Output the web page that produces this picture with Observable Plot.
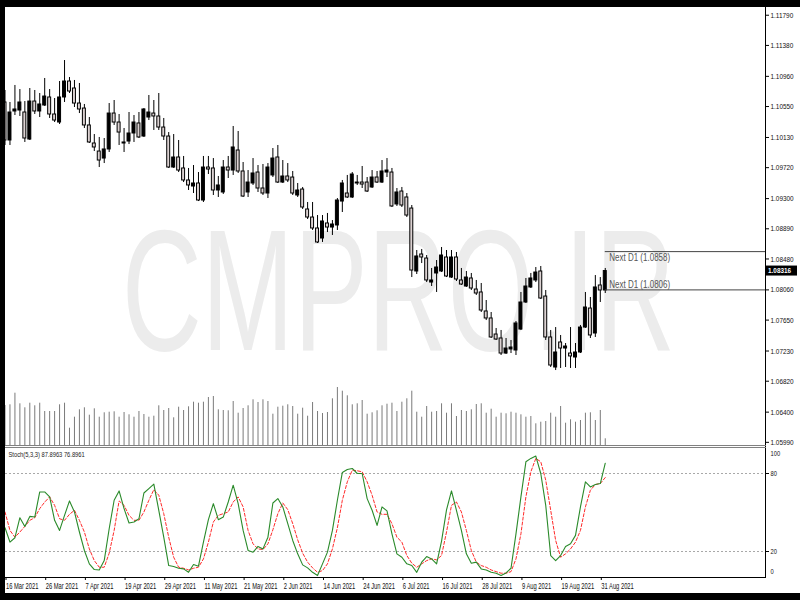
<!DOCTYPE html>
<html><head><meta charset="utf-8">
<script src="https://cdn.jsdelivr.net/npm/d3@7"></script>
<script src="https://cdn.jsdelivr.net/npm/@observablehq/plot@0.6"></script>
<style>
html,body{margin:0;padding:0;background:#fff;}
#wrap{position:relative;width:800px;height:600px;overflow:hidden;background:#fff;}
.layer{position:absolute;left:0;}
.band{position:absolute;background:#000;z-index:10;}
.hl{position:absolute;z-index:5;}
</style></head><body>
<div id="wrap"></div>
<script>
const FONT = '"Liberation Sans",Arial,sans-serif';

// EURUSD D1, 16 Mar 2021 .. 1 Sep 2021 (one value per trading day)
const open = [1.10605,1.10089,1.10483,1.10496,1.10469,1.10102,1.10618,1.10483,1.10564,1.10673,1.10442,1.10333,1.10673,1.10890,1.10795,1.10591,1.10523,1.10293,1.10048,1.09939,1.09844,1.09967,1.10455,1.10333,1.10048,1.10075,1.10184,1.10320,1.10143,1.10401,1.10455,1.10415,1.10265,1.10143,1.09722,1.09858,1.09709,1.09546,1.09464,1.09505,1.09274,1.09722,1.09709,1.09410,1.09383,1.09722,1.09681,1.09953,1.09668,1.09383,1.09505,1.09654,1.09437,1.09369,1.09614,1.09858,1.09518,1.09600,1.09586,1.09342,1.09423,1.09152,1.09043,1.08894,1.08758,1.08962,1.08907,1.08935,1.09260,1.09369,1.09315,1.09505,1.09518,1.09518,1.09451,1.09586,1.09518,1.09654,1.09654,1.09220,1.09396,1.09315,1.09165,1.08310,1.08541,1.08486,1.08160,1.08283,1.08310,1.08500,1.08228,1.08500,1.08188,1.08106,1.08215,1.08065,1.08025,1.07767,1.07672,1.07454,1.07400,1.07196,1.07251,1.07237,1.07522,1.07889,1.08093,1.08188,1.08310,1.07970,1.07414,1.07006,1.07346,1.07264,1.07196,1.07142,1.07210,1.07549,1.07807,1.07468,1.08120,1.08052];
const high = [1.10768,1.10605,1.10836,1.10781,1.10618,1.10795,1.10768,1.10727,1.10931,1.10781,1.10659,1.10890,1.11175,1.10944,1.10904,1.10863,1.10578,1.10401,1.10170,1.10130,1.10116,1.10591,1.10632,1.10442,1.10252,1.10469,1.10428,1.10469,1.10523,1.10700,1.10632,1.10727,1.10388,1.10197,1.10170,1.10089,1.09872,1.09709,1.09749,1.09654,1.09872,1.09872,1.09844,1.09600,1.09817,1.09872,1.10279,1.10211,1.09790,1.09681,1.09844,1.09749,1.09763,1.09776,1.09980,1.10021,1.09817,1.09776,1.09668,1.09505,1.09451,1.09247,1.09247,1.09070,1.09070,1.09098,1.09002,1.09301,1.09546,1.09614,1.09654,1.09614,1.09736,1.09586,1.09681,1.09668,1.09817,1.09844,1.09709,1.09437,1.09451,1.09369,1.09206,1.08595,1.08609,1.08527,1.08351,1.08459,1.08636,1.08595,1.08595,1.08568,1.08351,1.08310,1.08283,1.08188,1.08147,1.07916,1.07753,1.07536,1.07509,1.07400,1.07373,1.07631,1.08025,1.08215,1.08283,1.08364,1.08378,1.08052,1.07509,1.07549,1.07441,1.07332,1.07549,1.07332,1.07577,1.08025,1.07957,1.08255,1.08228,1.08351];
const low = [1.10021,1.10021,1.10428,1.10415,1.10062,1.10089,1.10442,1.10401,1.10551,1.10388,1.10333,1.10306,1.10605,1.10727,1.10537,1.10455,1.10252,1.10048,1.09939,1.09722,1.09776,1.09926,1.10293,1.10021,1.09926,1.10034,1.10062,1.10116,1.10130,1.10360,1.10225,1.10225,1.10089,1.09709,1.09709,1.09654,1.09518,1.09410,1.09369,1.09260,1.09247,1.09627,1.09342,1.09315,1.09356,1.09573,1.09614,1.09641,1.09315,1.09315,1.09478,1.09383,1.09342,1.09301,1.09586,1.09505,1.09505,1.09518,1.09342,1.09315,1.09152,1.09016,1.08867,1.08690,1.08704,1.08839,1.08799,1.08867,1.09111,1.09301,1.09301,1.09478,1.09437,1.09383,1.09437,1.09505,1.09505,1.09586,1.09179,1.09193,1.09179,1.09043,1.08228,1.08269,1.08418,1.08160,1.08106,1.08025,1.08296,1.08228,1.08215,1.08174,1.08120,1.08093,1.08052,1.07984,1.07753,1.07644,1.07400,1.07373,1.07169,1.07183,1.07196,1.07169,1.07509,1.07875,1.08079,1.08160,1.07930,1.07373,1.07006,1.06965,1.06993,1.07006,1.06993,1.06993,1.07196,1.07536,1.07400,1.07414,1.07889,1.08011];
const close = [1.10089,1.10469,1.10510,1.10605,1.10116,1.10618,1.10483,1.10578,1.10686,1.10442,1.10360,1.10673,1.10890,1.10754,1.10591,1.10510,1.10293,1.10062,1.09994,1.09817,1.09967,1.10455,1.10333,1.10197,1.10062,1.10184,1.10333,1.10130,1.10510,1.10469,1.10415,1.10265,1.10143,1.09722,1.09858,1.09681,1.09546,1.09478,1.09505,1.09274,1.09722,1.09695,1.09410,1.09478,1.09722,1.09681,1.09994,1.09668,1.09328,1.09518,1.09641,1.09437,1.09369,1.09722,1.09844,1.09518,1.09600,1.09546,1.09369,1.09410,1.09179,1.09043,1.08894,1.08704,1.08989,1.08907,1.08948,1.09274,1.09505,1.09315,1.09627,1.09518,1.09491,1.09396,1.09586,1.09518,1.09668,1.09681,1.09193,1.09383,1.09206,1.09070,1.08323,1.08514,1.08500,1.08188,1.08188,1.08364,1.08527,1.08242,1.08500,1.08201,1.08133,1.08228,1.08079,1.08011,1.07780,1.07672,1.07414,1.07386,1.07196,1.07264,1.07278,1.07604,1.07889,1.08106,1.08215,1.08296,1.07943,1.07414,1.07033,1.07210,1.07264,1.07291,1.07156,1.07210,1.07549,1.07821,1.07441,1.08093,1.08052,1.08316];
// tick volume, thousands
const volumeK = [40,40.7,52.3,41.7,37.7,42.3,39.7,42.3,34,34,34,40.7,42.3,17.3,28.3,35.7,37.7,30.3,36.7,28.3,32.7,33.3,33.7,28.3,33,30.7,28.3,34,31,28.3,29.3,39.7,35,37,27.7,38.3,35,38.7,43.3,42.3,43.3,48,49,35.7,35,34.7,44,32.3,37,39.7,45.7,43,45.7,44,31.3,38.3,39.3,40.7,39,31.3,37.3,29.3,43,34,32,33,46.7,58,54.3,49.7,40.7,41.7,45,31.3,32.7,34.7,39.7,41.3,42.3,34,43.3,46.7,54.3,33.3,28.3,39,33.3,34,41.7,32.3,41.7,29,35,34,35.7,41,41.7,32.3,36.3,28.3,32.3,31.7,33.3,32.3,30.7,28.3,29,21.7,23.3,24,32.3,28.3,39,22.3,25.7,23.3,25,32.3,32.7,25,35,6.7];
const stochK = [38.3,27.2,30.6,46,39.3,47,46.5,65.8,65.8,62,44,36.2,47.8,58.9,50.4,35,20.8,10.5,6.1,5.8,13,37.5,59.4,66.6,53,41.9,42.7,45.2,65,68.4,71.8,51.7,31,9.2,8.4,7.1,6.6,4,10,8.7,27.2,44.5,56.8,44.5,46.5,58.1,71,56.8,36.2,20.8,19.5,23.9,22,31,57.3,60.7,54.3,41.4,28.5,18.2,9.7,7.4,4,1.5,10.5,19.5,36.2,59.4,80.8,83.1,83.9,80,80,60.7,51.7,40.1,54.3,51.2,33.6,18.2,15.6,10.5,9.2,4,11.8,16.1,14.3,10.5,28,52,66.6,51.7,36.2,18.2,11,11.8,6.6,5.8,4,3.3,1.5,3.5,7.1,33.6,62,89,91.6,93.4,80,55.5,16.9,13,16.9,23.9,25.9,32.4,54.3,73.6,69.7,71.5,72.3,87.9];
const stochD = [50.4,36.2,31,35,39.3,44,46,53,58,62,55.5,45.2,44,48.6,51.7,44,35,22,13,7.9,7.9,18.7,36.2,58.9,55.5,47.8,44,44,50.4,59.4,67.6,63.3,49.1,31,15.6,7.9,7.1,5.8,7.1,7.9,14.3,27.2,42.7,47.8,49.1,50.4,58.1,62,54.3,36.2,25.9,22,21.5,25.9,36.7,49.1,57.3,52.2,41.4,29,18.7,11.8,7.4,4,5.3,10.5,22,38.3,59.4,73.6,82.6,82.1,81.3,73.6,63.3,50.4,48.6,48.6,41.4,31,27.2,16.9,11,7.9,10.5,13,14.3,13.6,16.9,35,55.5,58.1,50.4,36.2,20.8,11.8,9.2,7.9,5.8,4.5,3.3,3.3,4.5,14.3,33.6,62,81.3,91.6,89,74.9,51.7,28.5,15.6,18.2,22,27.2,36.2,54.3,67.1,71.5,72.3,76.9];

const dateTickIndex = [0,8,16,24,32,40,48,56,64,72,80,88,96,104,112,120];
const dateTickLabels = ["16 Mar 2021","26 Mar 2021","7 Apr 2021","19 Apr 2021","29 Apr 2021","11 May 2021","21 May 2021","2 Jun 2021","14 Jun 2021","24 Jun 2021","6 Jul 2021","16 Jul 2021","28 Jul 2021","9 Aug 2021","19 Aug 2021","31 Aug 2021"];
const priceTicks = [1.11790,1.11380,1.10960,1.10550,1.10130,1.09720,1.09300,1.08890,1.08480,1.08060,1.07650,1.07230,1.06820,1.06400,1.05990];
const nextD1 = [{label:"Next D1 (1.0858)", value:1.0858}, {label:"Next D1 (1.0806)", value:1.0806}];
const stochLevels = [80, 20];
const stochTitle = "Stoch(5,3,3) 87.8963 76.8961";
const lastPrice = 1.08316;
const watermarkText = "CMPRO.IR";

const candles = open.map((o, i) => ({i, open:o, high:high[i], low:low[i], close:close[i], vol:volumeK[i], k:stochK[i], d:stochD[i]}));
const up = candles.filter(d => d.close >= d.open);
const down = candles.filter(d => d.close < d.open);
const lastIdx = candles.length - 1;

// view settings
const W = 800, ML = 5, MR = 35;
const xDomain = [0.1, 153.3];
const xCfg = {type:"linear", domain:xDomain, axis:null};
const wrap = document.getElementById("wrap");

function place(el, top, z){ const d = document.createElement("div"); d.className="layer"; d.style.top = top+"px"; d.style.zIndex = z; d.appendChild(el); wrap.appendChild(d); }

// price panel
const price = Plot.plot({
  width:W, height:446, marginLeft:ML, marginRight:MR, marginTop:7, marginBottom:1,
  x:xCfg,
  y:{domain:[1.05947, 1.11895]},
  style:{background:"transparent", fontFamily:FONT, fontSize:"8px", overflow:"visible"},
  marks:[
    (index, scales, values, dims) => {
      const t = d3.create("svg:text")
        .attr("x", dims.marginLeft + 117).attr("y", 350)
        .attr("text-anchor", "start")
        .attr("font-family", '"Liberation Sans",Arial,sans-serif')
        .attr("font-size", 172).attr("fill", "#ececec")
        .attr("textLength", 553).attr("lengthAdjust", "spacingAndGlyphs")
        .text(watermarkText);
      return t.node();
    },
    Plot.axisY(priceTicks, {anchor:"right", tickSize:3, tickPadding:2, tickFormat:d => d.toFixed(5), fontSize:8, fontFamily:FONT, fill:"#111", label:null}),
    Plot.ruleX(candles, {x:"i", y1:"low", y2:"high", stroke:"#000", strokeWidth:1}),
    Plot.rect(down, {x1:d => d.i - 0.3, x2:d => d.i + 0.3, y1:"open", y2:"close", fill:"#dcd2d2", stroke:"#000", strokeWidth:1}),
    Plot.rect(up, {x1:d => d.i - 0.3, x2:d => d.i + 0.3, y1:"open", y2:"close", fill:"#000", stroke:"#000", strokeWidth:1}),
    Plot.ruleY(nextD1, {y:"value", x1:lastIdx, x2:xDomain[1], stroke:"#444", strokeWidth:1}),
    Plot.text(nextD1.slice(0,1), {x:lastIdx, y:"value", text:"label", textAnchor:"start", lineAnchor:"top", dx:4, dy:2, fontSize:10, fontFamily:FONT, fill:"#555"}),
    Plot.text(nextD1.slice(1), {x:lastIdx, y:"value", text:"label", textAnchor:"start", lineAnchor:"bottom", dx:4, dy:-2, fontSize:10, fontFamily:FONT, fill:"#555"}),
    (index, scales, values, dims) => {
      const y = scales.y(lastPrice);
      const g = d3.create("svg:g");
      const x0 = dims.width - dims.marginRight + 1;
      g.append("rect").attr("x", x0).attr("y", y - 5).attr("width", 31).attr("height", 10).attr("fill", "#000");
      g.append("text").attr("x", x0 + 2).attr("y", y).attr("dy", "0.35em").attr("fill", "#fff")
        .attr("text-anchor", "start")
        .attr("font-size", 8).attr("font-weight", "bold").attr("font-family", FONT).text(lastPrice.toFixed(5));
      return g.node();
    }
  ]
});
place(price, 0, 2);

// volume overlay (own scale)
const vol = Plot.plot({
  width:W, height:446, marginLeft:ML, marginRight:MR, marginTop:7, marginBottom:1,
  x:xCfg,
  y:{domain:[0, 438], axis:null},
  style:{background:"transparent", overflow:"visible"},
  marks:[
    Plot.ruleX(candles, {x:"i", y1:0, y2:"vol", stroke:"#7a7a7a", strokeWidth:1})
  ]
});
place(vol, 0, 1);

// stochastic panel
const stoch = Plot.plot({
  width:W, height:153, marginLeft:ML, marginRight:MR, marginTop:0, marginBottom:23,
  x:xCfg,
  y:{domain:[0, 100], axis:null},
  style:{background:"transparent", fontFamily:FONT, fontSize:"8px", overflow:"visible"},
  marks:[
    Plot.ruleY(stochLevels, {stroke:"#a8a8a8", strokeDasharray:"2,2"}),
    Plot.line(candles, {x:"i", y:"d", stroke:"#ff2a2a", strokeWidth:1, strokeDasharray:"3,2"}),
    Plot.line(candles, {x:"i", y:"k", stroke:"#2a8a2a", strokeWidth:1.1}),
    Plot.text([stochTitle], {frameAnchor:"top-left", dx:3, dy:4, textAnchor:"start", lineAnchor:"top", fontSize:8, fontFamily:FONT, fill:"#222"}),
    Plot.axisY(stochLevels, {anchor:"right", tickSize:3, tickPadding:2, fontSize:8, fontFamily:FONT, fill:"#111", label:null}),
    Plot.axisY([100], {anchor:"right", tickSize:0, tickPadding:5, dy:6, fontSize:8, fontFamily:FONT, fill:"#111", label:null}),
    Plot.axisY([0], {anchor:"right", tickSize:0, tickPadding:5, dy:-6, fontSize:8, fontFamily:FONT, fill:"#111", label:null}),
    Plot.axisX(dateTickIndex, {anchor:"bottom", tickSize:3, tickPadding:2, textAnchor:"start", dx:1, fontSize:8.5, fontFamily:FONT, fill:"#111", label:null,
      tickFormat:d => dateTickLabels[dateTickIndex.indexOf(d)]})
  ]
});
place(stoch, 447, 2);

// narrow the terminal-style fonts (the screenshot's fonts are condensed)
function condense(nodes, factor){
  nodes.forEach(t => {
    if (t.hasAttribute("textLength")) return;
    const L = t.getComputedTextLength();
    if (L > 0) { t.setAttribute("textLength", (L * factor).toFixed(1)); t.setAttribute("lengthAdjust", "spacingAndGlyphs"); }
  });
}
condense(stoch.querySelectorAll('g[aria-label="x-axis tick label"] text'), 0.68);
condense(stoch.querySelectorAll('g[aria-label="y-axis tick label"] text'), 0.72);
condense(stoch.querySelectorAll("text"), 0.72);
condense(price.querySelectorAll("text"), 0.8);

// panel lines and black border
function line(l, t, w, h, c, z){ const d = document.createElement("div"); d.className="hl"; Object.assign(d.style,{left:l+"px",top:t+"px",width:w+"px",height:h+"px",background:c,zIndex:z}); wrap.appendChild(d); }
line(765, 7, 1, 571, "#000", 6);
line(5, 445, 761, 1, "#808080", 6);
line(5, 447, 761, 1, "#808080", 6);
line(5, 577, 761, 1, "#000", 6);
function band(l, t, w, h){ const d = document.createElement("div"); d.className="band"; Object.assign(d.style,{left:l+"px",top:t+"px",width:w+"px",height:h+"px"}); wrap.appendChild(d); }
band(0, 0, 800, 7);
band(0, 0, 5, 600);
band(0, 593, 800, 7);
</script>
</body></html>
